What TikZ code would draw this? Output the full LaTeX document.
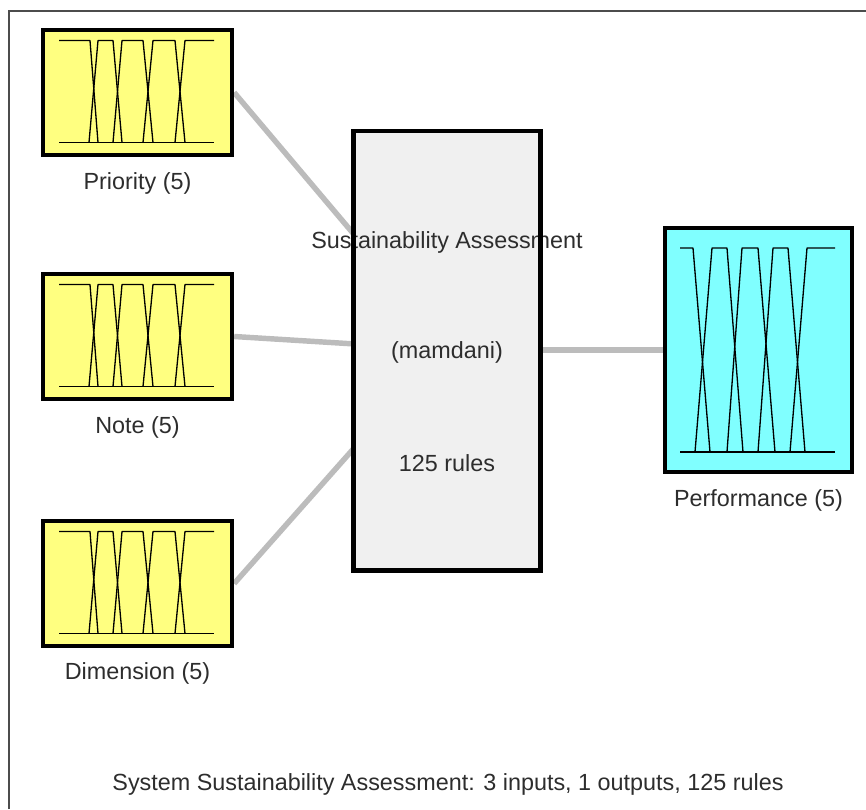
\documentclass[tikz,border=0pt]{standalone}
\usepackage{fontspec}
\setmainfont{Liberation Sans}
\usetikzlibrary{positioning, calc, backgrounds}
\usepackage{xcolor}

\definecolor{mfyellow}{RGB}{255,255,128}
\definecolor{mfcyan}{RGB}{128,255,255}
\definecolor{fisgray}{RGB}{240,240,240}
\definecolor{linkgray}{RGB}{188,188,188}
\definecolor{txtgray}{RGB}{45,45,45}

\tikzset{
  varbox/.style={draw=black, line width=2.5pt, minimum width=3.78cm, minimum height=2.5cm, inner sep=0pt},
  inbox/.style={varbox, fill=mfyellow},
  outbox/.style={varbox, fill=mfcyan, minimum width=3.74cm, minimum height=4.88cm},
  fisbox/.style={fill=fisgray, minimum width=3.72cm, minimum height=8.78cm, inner sep=0pt},
  link/.style={linkgray, line width=3.1pt},
  mf/.style={black, line width=0.75pt, line join=round},
  lbl/.style={font=\fontsize{13.3}{16}\selectfont, text=txtgray, inner sep=0pt}
}

\begin{document}
\begin{tikzpicture}[x=0.02cm, y=-0.02cm]
    \useasboundingbox (0,0) rectangle (866,809);
    % Moldura
    \draw[black!70, line width=1.1pt] (9,809) -- (9,11) -- (866,11);
    % Entradas
    \node[inbox] (prio) at (137.5,92.5) {};
    \node[inbox] (note) at (137.5,336.5) {};
    \node[inbox] (dim) at (137.5,583.5) {};
    \node[lbl] (prioname) at (137.5,183) {Priority (5)};
    \node[lbl] (notename) at (137.5,427) {Note (5)};
    \node[lbl] (dimname) at (137.5,673) {Dimension (5)};
    % Saida
    \node[outbox] (perf) at (758.5,350) {};
    \node[lbl] (perfname) at (758.5,500) {Performance (5)};
    % Sistema de inferencia
    \node[fisbox] (fis) at (447,350.5) {};
    \coordinate (fisin1) at ($(fis.north west)!0.235!(fis.south west)$);
    \coordinate (fisin2) at ($(fis.north west)!0.485!(fis.south west)$);
    \coordinate (fisin3) at ($(fis.north west)!0.723!(fis.south west)$);
    \coordinate (fisout) at (fis.east |- perf.west);
    % Ligacoes
    \begin{scope}[on background layer]
      \draw[link] (prio.east) -- (fisin1);
      \draw[link] (note.east) -- (fisin2);
      \draw[link] (dim.east) -- (fisin3);
      \draw[link] (fisout) -- (perf.west);
    \end{scope}
    \node[lbl] (fistitle) at (447,242) {Sustainability Assessment};
    \node[lbl] (fistype) at (447,352) {(mamdani)};
    \node[lbl] (fisrules) at (447,463) {125 rules};
    \draw[black, line width=2.5pt] (fis.south west) rectangle (fis.north east);
    % Funcoes de pertinencia (entradas)
    \foreach \v in {prio, note, dim} {
      \begin{scope}[shift={($(\v.center)+(-78.5,50)$)}]
        \draw[mf] (0,0) -- (155,0);
        \draw[mf] (0,-102) -- (31,-102) -- (39,0);
        \foreach \a/\b/\c/\d in {30/39/54/63, 54/63/84/94, 84/94/116/126}
          \draw[mf] (\a,0) -- (\b,-102) -- (\c,-102) -- (\d,0);
        \draw[mf] (116,0) -- (126,-102) -- (155,-102);
      \end{scope}
    }
    % Funcoes de pertinencia (saida)
    \begin{scope}[shift={($(perf.center)+(-78.5,102)$)}]
      \draw[mf] (0,0) -- (155,0);
      \draw[mf] (0,-204) -- (13,-204) -- (30,0);
      \foreach \a/\b/\c/\d in {15/32/47/63, 47/62/78/95, 78/93/108/125}
        \draw[mf] (\a,0) -- (\b,-204) -- (\c,-204) -- (\d,0);
      \draw[mf] (110,0) -- (127,-204) -- (155,-204);
    \end{scope}
    % Resumo
    \node[lbl] (summary) at (448,784) {System Sustainability Assessment: 3 inputs, 1 outputs, 125 rules};
\end{tikzpicture}
\end{document}
